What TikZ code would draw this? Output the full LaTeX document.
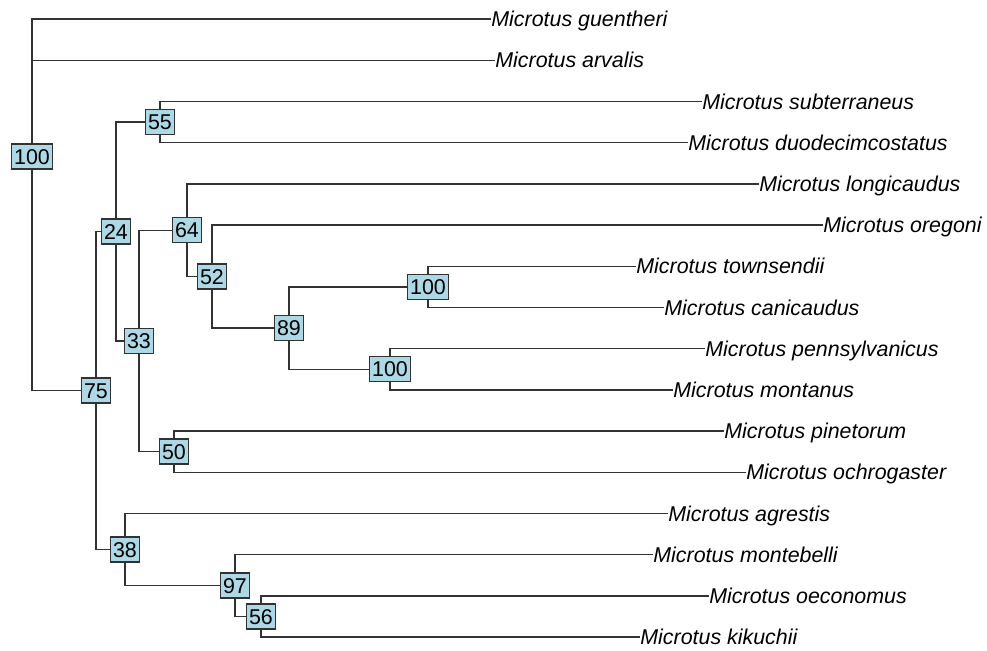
\documentclass[tikz,border=0pt]{standalone}
\usepackage{fontspec}
\setmainfont{Liberation Sans}
\usepackage{xcolor}
\usepackage{tikz}
\usetikzlibrary{positioning}
\definecolor{boxblue}{RGB}{173,216,230}
\definecolor{edgegray}{RGB}{50,50,50}

\begin{document}
\begin{tikzpicture}[x=0.5pt,y=-0.5pt, every node/.style={font=\fontsize{10.7}{12}\selectfont}, tip/.style={anchor=west,inner sep=0pt,text height=7.6pt,text depth=0pt,font=\fontsize{10.7}{12}\selectfont\itshape}, lab/.style={draw=edgegray,fill=boxblue,line width=0.75pt,inner xsep=1.4pt,inner ysep=0pt,text height=7.6pt,text depth=0pt,minimum height=12.5pt}, edge/.style={draw=edgegray,line width=0.7pt}]
\useasboundingbox (0,0) rectangle (987,650);
% tips
\node[tip] (guen) at (491,19) {Microtus guentheri};
\node[tip] (arva) at (495,60.2) {Microtus arvalis};
\node[tip] (subt) at (702,101.4) {Microtus subterraneus};
\node[tip] (duod) at (688,142.6) {Microtus duodecimcostatus};
\node[tip] (long) at (759,183.8) {Microtus longicaudus};
\node[tip] (oreg) at (823,225) {Microtus oregoni};
\node[tip] (town) at (636,266.2) {Microtus townsendii};
\node[tip] (cani) at (664,307.4) {Microtus canicaudus};
\node[tip] (penn) at (705,348.6) {Microtus pennsylvanicus};
\node[tip] (mont) at (673,389.8) {Microtus montanus};
\node[tip] (pine) at (724,431) {Microtus pinetorum};
\node[tip] (ochr) at (746,472.2) {Microtus ochrogaster};
\node[tip] (agre) at (668,513.4) {Microtus agrestis};
\node[tip] (mteb) at (653,554.6) {Microtus montebelli};
\node[tip] (oeco) at (709,595.8) {Microtus oeconomus};
\node[tip] (kiku) at (640,637) {Microtus kikuchii};
% support values
\node[lab] (root) at (32,156.5) {100};
\node[lab] (n75) at (96,390.4) {75};
\node[lab] (n24) at (116,231.4) {24};
\node[lab] (n55) at (160,122) {55};
\node[lab] (n33) at (139,340.9) {33};
\node[lab] (n64) at (187,230.2) {64};
\node[lab] (n52) at (212,276.5) {52};
\node[lab] (n89) at (289,328) {89};
\node[lab] (n100a) at (428,286.8) {100};
\node[lab] (n100b) at (390,369.2) {100};
\node[lab] (n50) at (174,451.6) {50};
\node[lab] (n38) at (125,549.5) {38};
\node[lab] (n97) at (235,585.5) {97};
\node[lab] (n56) at (261,616.4) {56};
% branches
\draw[edge] (root) |- (guen); \draw[edge] (root) |- (arva); \draw[edge] (root) |- (n75);
\draw[edge] (n75) |- (n24); \draw[edge] (n75) |- (n38);
\draw[edge] (n24) |- (n55); \draw[edge] (n24) |- (n33);
\draw[edge] (n55) |- (subt); \draw[edge] (n55) |- (duod);
\draw[edge] (n33) |- (n64); \draw[edge] (n33) |- (n50);
\draw[edge] (n64) |- (long); \draw[edge] (n64) |- (n52);
\draw[edge] (n52) |- (oreg); \draw[edge] (n52) |- (n89);
\draw[edge] (n89) |- (n100a); \draw[edge] (n89) |- (n100b);
\draw[edge] (n100a) |- (town); \draw[edge] (n100a) |- (cani);
\draw[edge] (n100b) |- (penn); \draw[edge] (n100b) |- (mont);
\draw[edge] (n50) |- (pine); \draw[edge] (n50) |- (ochr);
\draw[edge] (n38) |- (agre); \draw[edge] (n38) |- (n97);
\draw[edge] (n97) |- (mteb); \draw[edge] (n97) |- (n56);
\draw[edge] (n56) |- (oeco); \draw[edge] (n56) |- (kiku);
\end{tikzpicture}
\end{document}
